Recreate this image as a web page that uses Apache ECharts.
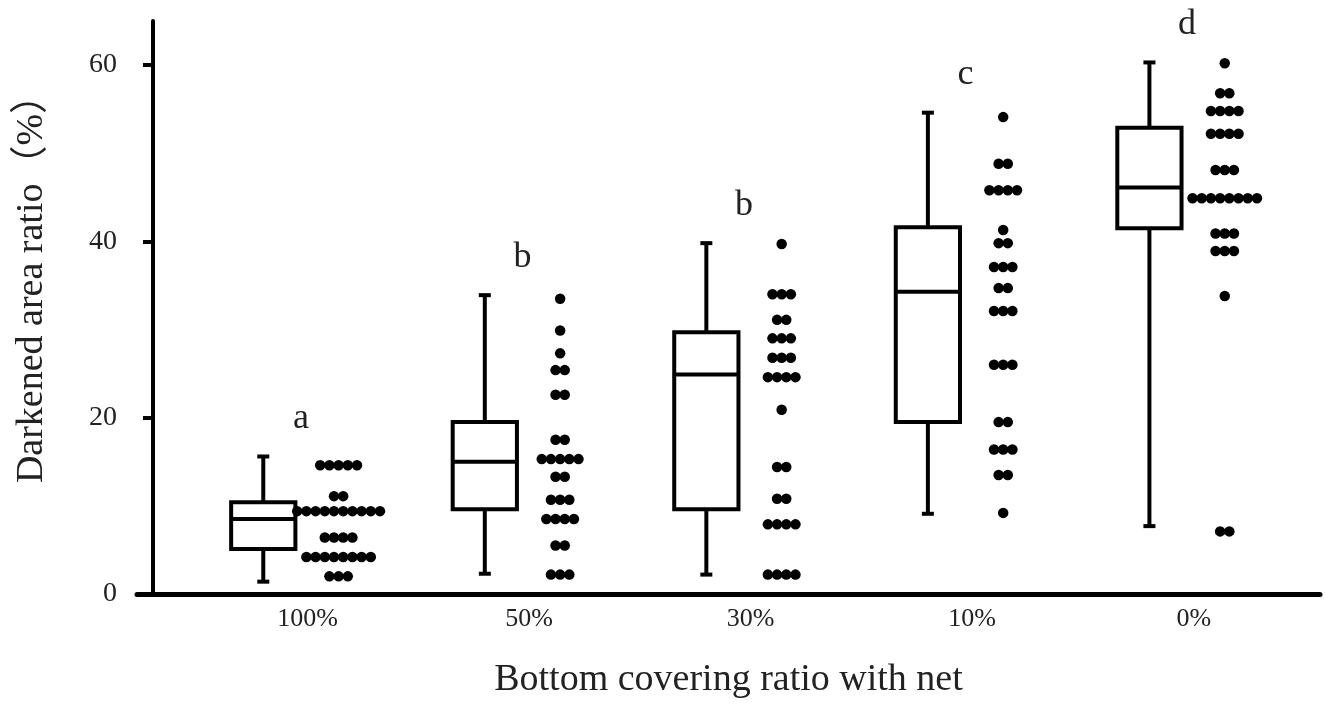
<!DOCTYPE html>
<html>
<head>
<meta charset="utf-8">
<title>Darkened area ratio</title>
<script src="https://cdn.jsdelivr.net/npm/echarts@6/dist/echarts.min.js"></script>
<style>
  html, body { margin: 0; padding: 0; background: #fff; }
  #chart { width: 1325px; height: 705px; }
</style>
</head>
<body>
<div id="chart"></div>
<script>
var categories = ['100%', '50%', '30%', '10%', '0%']
var letters = ['a', 'b', 'b', 'c', 'd']
var yTicks = [0, 20, 40, 60]

// box stats per group
var whiskerLow = [1.4, 2.3, 2.2, 9.1, 7.7]
var q1 = [5.1, 9.6, 9.6, 19.5, 41.5]
var median = [8.5, 15.0, 24.9, 34.3, 46.1]
var q3 = [10.4, 19.5, 29.7, 41.6, 52.9]
var whiskerHigh = [15.6, 33.9, 39.8, 54.6, 60.3]

// one value per dot
var dots100 = [
  14.6, 14.6, 14.6, 14.6, 14.6,
  11.1, 11.1,
  9.4, 9.4, 9.4, 9.4, 9.4, 9.4, 9.4, 9.4, 9.4, 9.4,
  6.4, 6.4, 6.4, 6.4,
  4.2, 4.2, 4.2, 4.2, 4.2, 4.2, 4.2, 4.2,
  2.0, 2.0, 2.0
]
var dots50 = [
  33.5, 29.9, 27.3, 25.4, 25.4, 22.6, 22.6, 17.5, 17.5,
  15.3, 15.3, 15.3, 15.3, 15.3,
  13.3, 13.3, 10.7, 10.7, 10.7,
  8.5, 8.5, 8.5, 8.5, 5.5, 5.5, 2.2, 2.2, 2.2
]
var dots30 = [
  39.7, 34.0, 34.0, 34.0, 31.1, 31.1, 29.0, 29.0, 29.0,
  26.8, 26.8, 26.8, 24.6, 24.6, 24.6, 24.6, 20.9,
  14.4, 14.4, 10.8, 10.8, 7.9, 7.9, 7.9, 7.9,
  2.2, 2.2, 2.2, 2.2
]
var dots10 = [
  54.1, 48.8, 48.8, 45.8, 45.8, 45.8, 45.8, 41.3, 39.8, 39.8,
  37.1, 37.1, 37.1, 34.7, 34.7, 32.1, 32.1, 32.1,
  26.0, 26.0, 26.0, 19.5, 19.5, 16.4, 16.4, 16.4, 13.5, 13.5, 9.2
]
var dots0 = [
  60.2, 56.8, 56.8, 54.8, 54.8, 54.8, 54.8, 52.2, 52.2, 52.2, 52.2,
  48.1, 48.1, 48.1,
  44.9, 44.9, 44.9, 44.9, 44.9, 44.9, 44.9, 44.9,
  40.9, 40.9, 40.9, 38.9, 38.9, 38.9, 33.8, 7.1, 7.1
]
var dotGroups = [dots100, dots50, dots30, dots10, dots0]

var FONT = '"Liberation Serif", "Times New Roman", "Noto Sans CJK JP", serif'
var TEXT = '#222'
var BOX_SHIFT = -0.17
var DOT_SHIFT = 0.17
var LABEL_SHIFT = 0.03
var DOT_STEP = 9.2

// dots with the same value sit side by side in a row
function dotData(vals, gi) {
  var counts = {}
  vals.forEach(function(v) { counts[v] = (counts[v] || 0) + 1 })
  var seen = {}
  return vals.map(function(v) {
    var n = counts[v]
    seen[v] = (seen[v] || 0) + 1
    var k = seen[v] - 1
    return { value: [gi + DOT_SHIFT, v], symbolOffset: [(k - (n - 1) / 2) * DOT_STEP, 0] }
  })
}

var dotSeries = []
dotGroups.forEach(function(g, gi) {
  dotSeries = dotSeries.concat(dotData(g, gi))
})

var boxData = categories.map(function(c, i) {
  return [i, whiskerLow[i], q1[i], median[i], q3[i], whiskerHigh[i]]
})
var letterData = categories.map(function(c, i) {
  return [i, whiskerHigh[i]]
})
var labelPos = categories.map(function(c, i) { return i + LABEL_SHIFT })

function stroke() {
  return { stroke: '#000', lineWidth: 4, fill: null }
}

var chart = echarts.init(document.getElementById('chart'))
chart.setOption({
  animation: false,
  backgroundColor: '#fff',
  grid: { left: 137, right: 5, top: 21, bottom: 111 },
  xAxis: {
    type: 'value',
    min: -0.74,
    max: 4.6,
    axisLine: { show: true, onZero: false, lineStyle: { color: '#000', width: 5 } },
    axisTick: { show: false },
    splitLine: { show: false },
    axisLabel: {
      customValues: labelPos,
      formatter: function(v) { return categories[Math.round(v - LABEL_SHIFT)] },
      margin: 12,
      fontSize: 26,
      color: TEXT,
      fontFamily: FONT
    },
    name: 'Bottom covering ratio with net',
    nameLocation: 'middle',
    nameGap: 67,
    nameTextStyle: { fontSize: 38, color: TEXT, fontFamily: FONT }
  },
  yAxis: {
    type: 'value',
    min: 0,
    max: 65,
    offset: -16,
    axisLine: { show: true, onZero: false, lineStyle: { color: '#000', width: 4 } },
    axisTick: { show: true, length: 10, customValues: yTicks, lineStyle: { color: '#000', width: 4 } },
    axisLabel: { customValues: yTicks, margin: 36, fontSize: 28, color: TEXT, fontFamily: FONT },
    splitLine: { show: false },
    name: 'Darkened area ratio（%）',
    nameLocation: 'middle',
    nameGap: 102,
    nameTextStyle: { fontSize: 38, color: TEXT, fontFamily: FONT, padding: [0, 0, 0, 56] }
  },
  series: [
    {
      type: 'custom',
      name: 'box',
      data: boxData,
      renderItem: function(params, api) {
        var x = api.value(0) + BOX_SHIFT
        var lo = api.coord([x, api.value(1)])
        var b1 = api.coord([x, api.value(2)])
        var md = api.coord([x, api.value(3)])
        var b3 = api.coord([x, api.value(4)])
        var hi = api.coord([x, api.value(5)])
        var w = api.size([0.29, 0])[0]
        var cx = lo[0]
        var cap = 6
        return {
          type: 'group',
          children: [
            { type: 'line', shape: { x1: cx, y1: hi[1], x2: cx, y2: b3[1] }, style: stroke() },
            { type: 'line', shape: { x1: cx, y1: b1[1], x2: cx, y2: lo[1] }, style: stroke() },
            { type: 'line', shape: { x1: cx - cap, y1: hi[1], x2: cx + cap, y2: hi[1] }, style: stroke() },
            { type: 'line', shape: { x1: cx - cap, y1: lo[1], x2: cx + cap, y2: lo[1] }, style: stroke() },
            {
              type: 'rect',
              shape: { x: cx - w / 2, y: b3[1], width: w, height: b1[1] - b3[1] },
              style: { stroke: '#000', lineWidth: 4, fill: '#fff' }
            },
            { type: 'line', shape: { x1: cx - w / 2, y1: md[1], x2: cx + w / 2, y2: md[1] }, style: stroke() }
          ]
        }
      }
    },
    {
      type: 'scatter',
      name: 'dots',
      symbol: 'circle',
      symbolSize: 10.5,
      itemStyle: { color: '#000', opacity: 1 },
      data: dotSeries
    },
    {
      type: 'custom',
      name: 'letters',
      data: letterData,
      renderItem: function(params, api) {
        var p = api.coord([api.value(0), api.value(1)])
        return {
          type: 'text',
          style: {
            text: letters[params.dataIndex],
            x: p[0],
            y: p[1] - 38,
            align: 'center',
            verticalAlign: 'middle',
            fill: TEXT,
            font: '36px ' + FONT
          }
        }
      }
    }
  ]
})
</script>
</body>
</html>
